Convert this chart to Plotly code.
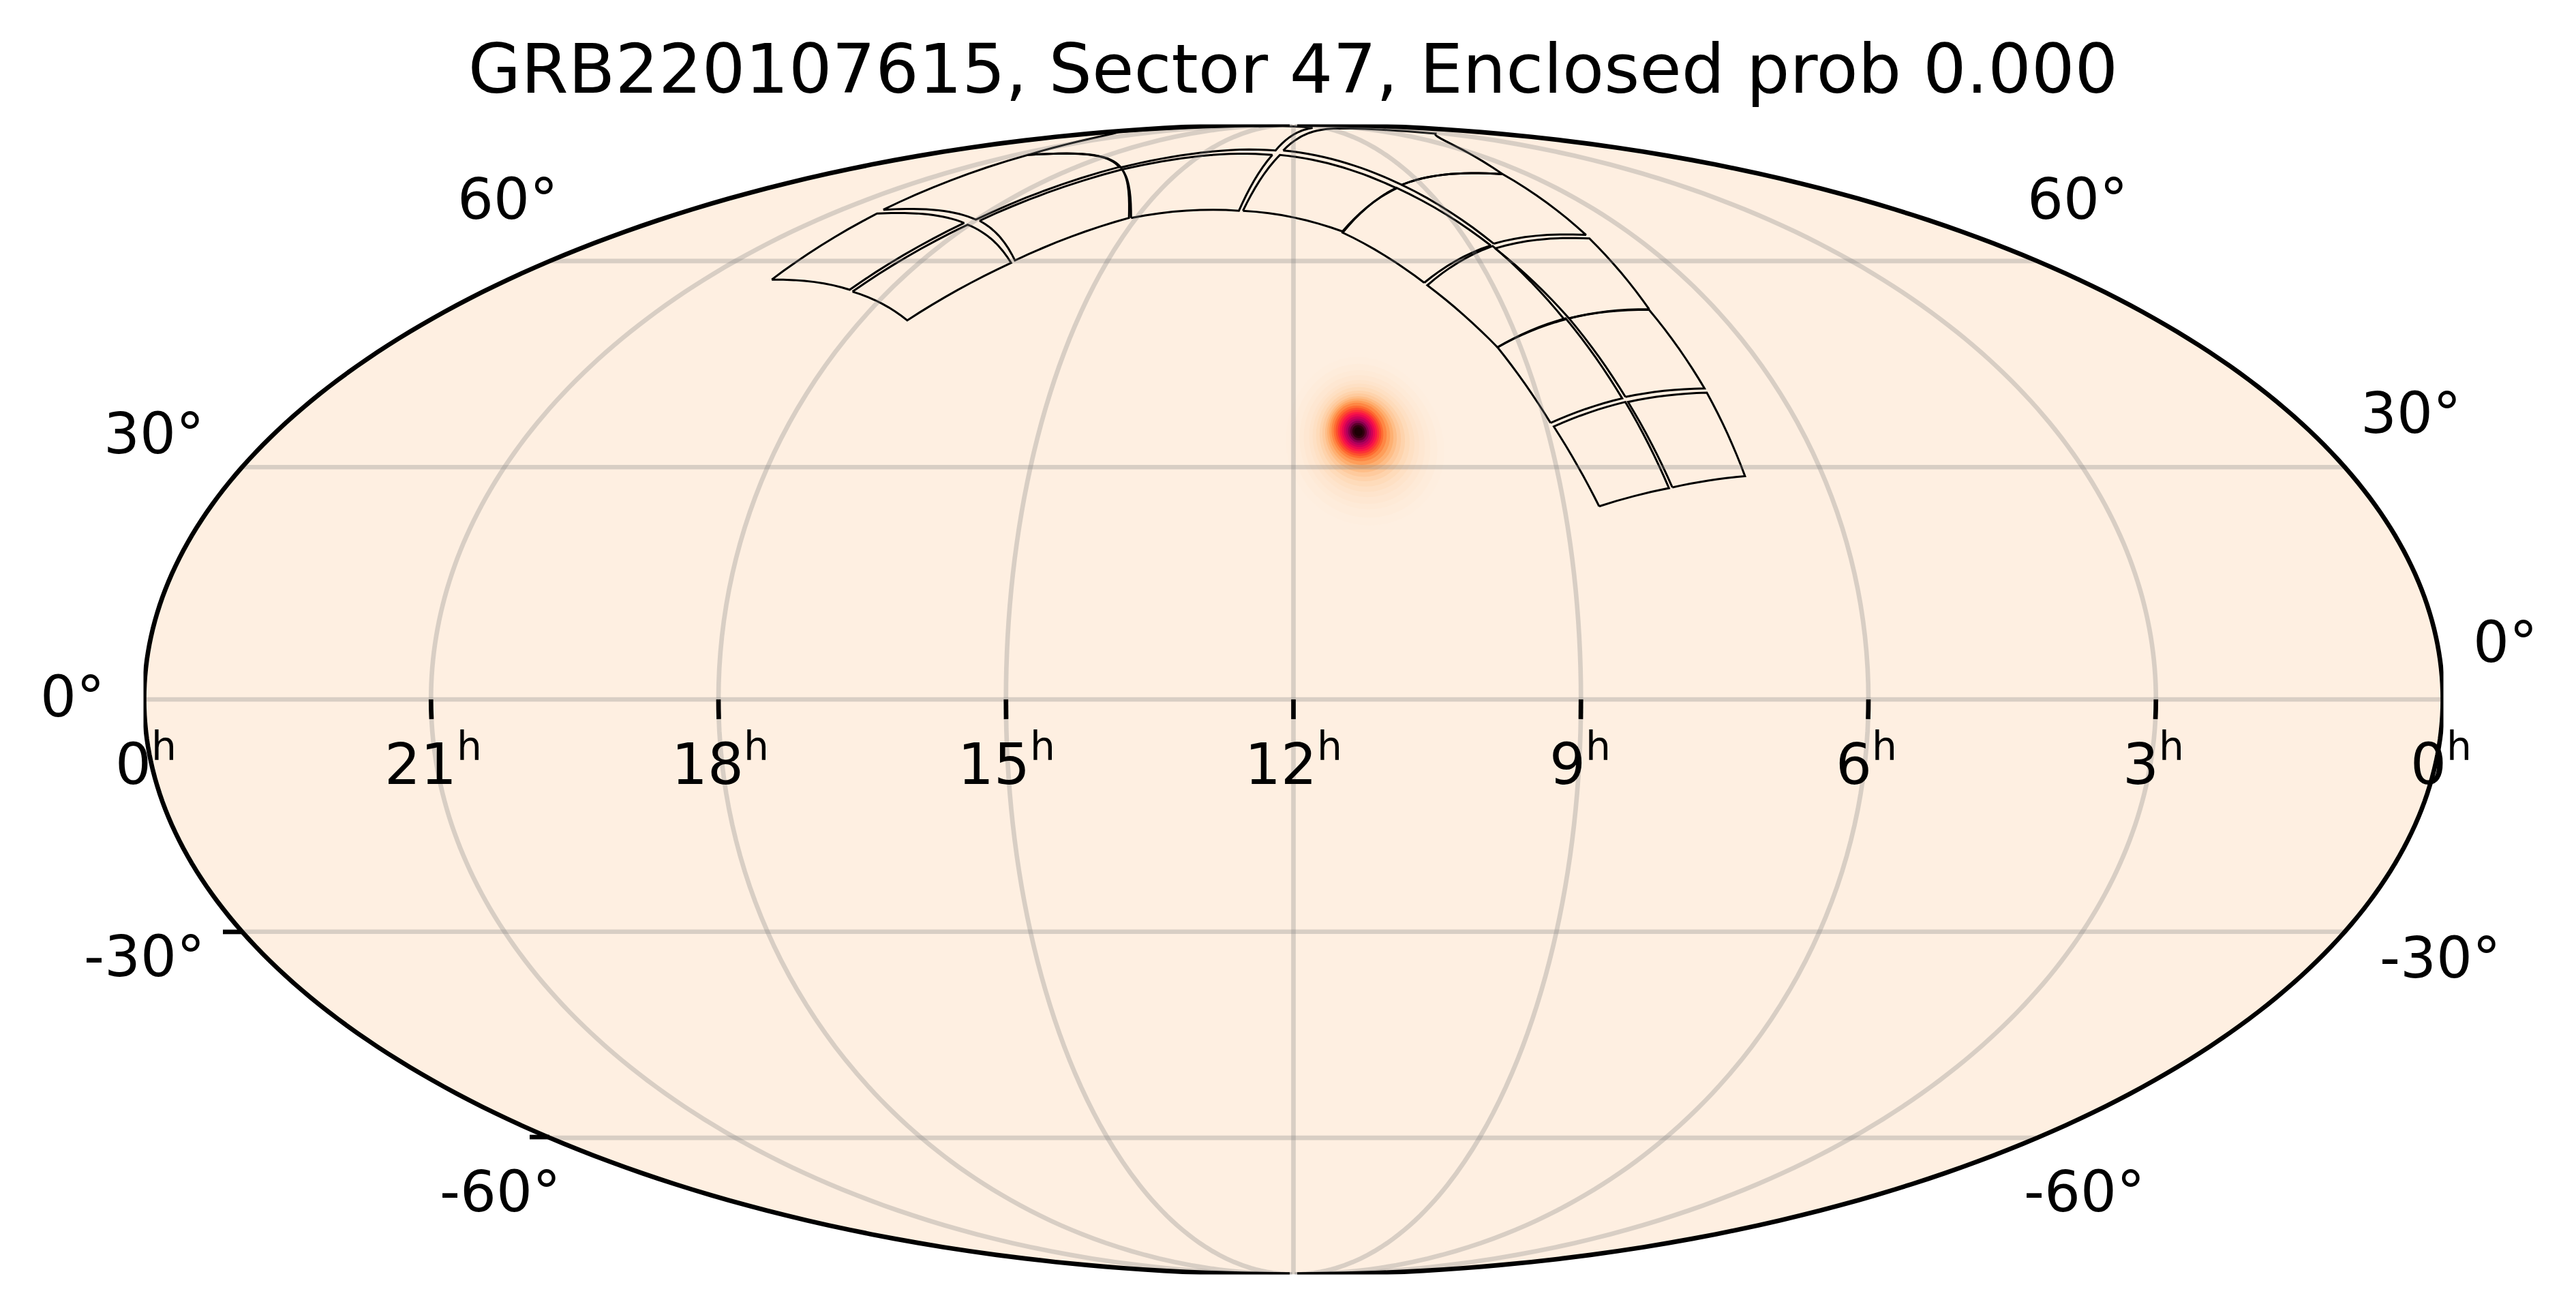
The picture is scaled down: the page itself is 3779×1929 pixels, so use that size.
import numpy as np
import plotly.graph_objects as go

W = 3779
H = 1929

title_text = "GRB220107615, Sector 47, Enclosed prob 0.000"

# detector outlines, corners (RA, Dec in degrees)
ccd_ra = [
    [129.2, 116.8, 119.3, 133.7],
    [116.2, 103.3, 103.5, 118.8],
    [134.1, 119.6, 123.1, 139.6],
    [118.9, 103.5, 104.3, 122.4],
    [139.6, 123.5, 129.3, 149.8],
    [122.4, 104.2, 102.5, 129.1],
    [150.3, 129.7, 144.7, 166.8],
    [128.6, 102.3, 99.5, 142.0],
    [185.4, 142.0, 99.5, 55.5, 128.0],
    [195.0, 166.8, 144.7, 186.6],
    [226.5, 196.2, 190.3, 249.1],
    [251.5, 309.3, 350.4, 240.0, 152.5, 189.4],
    [268.7, 249.1, 227.1, 247.5],
    [302.5, 309.3, 252.0, 270.2],
    [277.9, 270.4, 247.9, 260.4],
    [299.5, 301.9, 272.1, 279.0],
]
ccd_dec = [
    [24.8, 27.2, 38.9, 35.5],
    [27.3, 28.8, 40.2, 38.9],
    [36.0, 39.4, 51.0, 46.7],
    [39.6, 40.8, 52.3, 51.0],
    [46.7, 50.8, 62.5, 56.1],
    [51.0, 52.4, 63.8, 62.1],
    [56.5, 62.6, 73.1, 64.8],
    [62.9, 64.4, 75.9, 73.7],
    [81.3, 73.7, 75.9, 86.0, 87.8],
    [68.7, 65.0, 73.0, 80.2],
    [67.4, 68.7, 80.2, 76.9],
    [77.3, 80.2, 86.6, 88.6, 88.1, 81.3],
    [66.9, 76.9, 67.4, 60.1],
    [68.9, 80.2, 77.5, 67.1],
    [55.1, 66.2, 59.7, 50.7],
    [57.0, 68.2, 66.5, 55.4],
]

# probability blob, outermost contour first
blob_radius = [11.5, 10.5, 9.5, 8.8, 8.0, 7.4, 6.8, 6.2, 5.7, 5.2, 4.8, 4.4,
               4.0, 3.6, 3.3, 3.0, 2.7, 2.4, 2.1, 1.8, 1.5, 1.2, 0.9, 0.6]
blob_ra = [167.5, 167.5, 167.5, 167.6, 167.6, 167.7, 167.8, 167.9, 168.0, 168.1, 168.2, 168.3,
           168.4, 168.5, 168.5, 168.5, 168.5, 168.5, 168.5, 168.5, 168.5, 168.5, 168.5, 168.5]
blob_dec = [33.8, 33.8, 33.9, 33.9, 34.0, 34.1, 34.2, 34.3, 34.4, 34.5, 34.6, 34.7,
            34.8, 34.8, 34.8, 34.8, 34.8, 34.8, 34.8, 34.8, 34.8, 34.8, 34.8, 34.8]
blob_colors = [
    "rgb(254,238,223)", "rgb(254,236,219)", "rgb(254,234,215)", "rgb(254,231,210)",
    "rgb(254,228,204)", "rgb(254,224,196)", "rgb(254,219,186)", "rgb(254,211,172)",
    "rgb(254,202,157)", "rgb(254,190,136)", "rgb(254,176,114)", "rgb(254,158,90)",
    "rgb(254,135,68)", "rgb(254,108,50)", "rgb(252,80,45)", "rgb(252,50,55)",
    "rgb(250,22,70)", "rgb(232,8,80)", "rgb(205,0,88)", "rgb(175,0,90)",
    "rgb(135,0,75)", "rgb(90,0,42)", "rgb(50,0,15)", "rgb(30,0,5)",
]

ra_ticks_hours = [21, 18, 15, 12, 9, 6, 3]
ra_label_hours = [0, 21, 18, 15, 12, 9, 6, 3, 0]
ra_label_x = [214, 635, 1056, 1476, 1897, 2318, 2738, 3159, 3581]
dec_grid = [-60, -30, 0, 30, 60]
dec_labels = ["60°", "30°", "0°", "-30°", "-60°", "60°", "30°", "0°", "-30°", "-60°"]
dec_label_x = [745, 226, 106, 212, 734, 3048, 3537, 3675, 3580, 3058]
dec_label_y = [293, 636, 1022, 1403, 1748, 293, 607, 943, 1405, 1748]

bg_color = "rgb(254,239,225)"
grid_color = "rgba(128,128,128,0.3)"


def ra_to_lon(ra):
    # RA runs right to left, 12h in the middle
    return 180 - np.asarray(ra, dtype=float)


def px(x):
    return x / W


def py(y):
    return 1 - y / H


fig = go.Figure()

# sphere background
edge_lat = np.linspace(-89.99, 89.99, 91)
edge_lon = np.concatenate([np.full(91, -179.9), np.full(91, 179.9)])
edge_lats = np.concatenate([edge_lat, edge_lat[::-1]])
fig.add_trace(go.Scattergeo(lon=edge_lon, lat=edge_lats, mode="lines", fill="toself",
                            fillcolor=bg_color, line=dict(width=0), hoverinfo="skip"))

# blob contours
phi = np.linspace(0, 2 * np.pi, 49)
for r, ra, dec, c in zip(blob_radius, blob_ra, blob_dec, blob_colors):
    lon0 = ra_to_lon(ra)
    fig.add_trace(go.Scattergeo(lon=lon0 + r * np.sin(phi) / np.cos(np.radians(dec)),
                                lat=dec + r * np.cos(phi), mode="lines", fill="toself",
                                fillcolor=c, line=dict(width=0), hoverinfo="skip"))

# detector outlines
for ra, dec in zip(ccd_ra, ccd_dec):
    fig.add_trace(go.Scattergeo(lon=ra_to_lon(ra + ra[:1]), lat=dec + dec[:1], mode="lines",
                                line=dict(color="black", width=3), hoverinfo="skip"))

# grid goes on top of everything
grid_lats = np.linspace(-89.99, 89.99, 91)
for h in ra_ticks_hours:
    lon = ra_to_lon(h * 15)
    fig.add_trace(go.Scattergeo(lon=np.full(91, lon), lat=grid_lats, mode="lines",
                                line=dict(color=grid_color, width=6.67), hoverinfo="skip"))
grid_lons = np.linspace(-179.9, 179.9, 181)
for d in dec_grid:
    fig.add_trace(go.Scattergeo(lon=grid_lons, lat=np.full(181, d), mode="lines",
                                line=dict(color=grid_color, width=6.67), hoverinfo="skip"))

# RA ticks under the equator
for h in ra_ticks_hours:
    lon = ra_to_lon(h * 15)
    fig.add_trace(go.Scattergeo(lon=[lon, lon], lat=[0, -2.5], mode="lines",
                                line=dict(color="black", width=6.67), hoverinfo="skip"))

# frame
fig.add_trace(go.Scattergeo(lon=edge_lon, lat=edge_lats, mode="lines",
                            line=dict(color="black", width=6.67), hoverinfo="skip"))

annotations = []
for h, x in zip(ra_label_hours, ra_label_x):
    annotations.append(dict(text=f"{h}<sup>h</sup>", x=px(x), y=py(1115), xref="paper", yref="paper",
                            xanchor="center", yanchor="middle", showarrow=False,
                            font=dict(family="DejaVu Sans", size=83.3, color="black")))
for t, x, y in zip(dec_labels, dec_label_x, dec_label_y):
    annotations.append(dict(text=t, x=px(x), y=py(y), xref="paper", yref="paper",
                            xanchor="center", yanchor="middle", showarrow=False,
                            font=dict(family="DejaVu Sans", size=83.3, color="black")))

# the two Dec ticks outside the left edge
shapes = [
    dict(type="line", xref="paper", yref="paper", x0=px(327), x1=px(356), y0=py(1367), y1=py(1367),
         line=dict(color="black", width=6.67)),
    dict(type="line", xref="paper", yref="paper", x0=px(777), x1=px(806), y0=py(1668), y1=py(1668),
         line=dict(color="black", width=6.67)),
]

fig.update_layout(
    width=W,
    height=H,
    margin=dict(l=0, r=0, t=0, b=0),
    paper_bgcolor="white",
    showlegend=False,
    title=dict(text=title_text, x=px(1897), y=py(101), xanchor="center", yanchor="middle",
               xref="paper", yref="paper", font=dict(family="DejaVu Sans", size=100, color="black")),
    annotations=annotations,
    shapes=shapes,
    geo=dict(
        domain=dict(x=[px(209), px(3586)], y=[py(1869.5), py(182.5)]),
        projection=dict(type="mollweide"),
        lonaxis=dict(range=[-180, 180], showgrid=False),
        lataxis=dict(range=[-90, 90], showgrid=False),
        showland=False, showocean=False, showlakes=False, showrivers=False,
        showcountries=False, showsubunits=False, showcoastlines=False,
        showframe=False, bgcolor="rgba(0,0,0,0)",
    ),
)

fig.write_html("out.html", config={"displayModeBar": False},
               post_script="document.body.style.margin='0';")
